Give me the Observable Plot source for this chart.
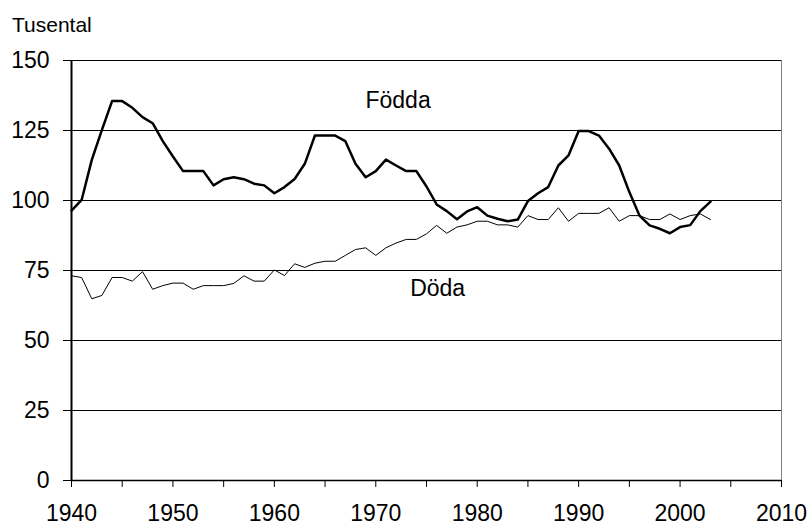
<!DOCTYPE html>
<html>
<head>
<meta charset="utf-8">
<script src="https://cdn.jsdelivr.net/npm/d3@7"></script>
<script src="https://cdn.jsdelivr.net/npm/@observablehq/plot@0.6"></script>
<style>
  html, body { margin: 0; padding: 0; background: #fff; }
  #chart { position: relative; width: 810px; height: 525px; }
  #unit { position: absolute; left: 12px; top: 14px; font: 21px/21px "Liberation Sans", Arial, sans-serif; color: #000; }
</style>
</head>
<body>
<div id="chart"><div id="unit">Tusental</div></div>
<script>
const years = d3.range(1940, 2004);
const fodda = [
  96.4, 100.2, 114.5, 125.2, 135.5, 135.5, 133.1, 129.8, 127.6, 121.2,
  115.7, 110.5, 110.5, 110.5, 105.4, 107.6, 108.3, 107.6, 106.0, 105.4,
  102.6, 104.8, 107.7, 113.1, 123.2, 123.2, 123.2, 121.2, 113.1, 108.3,
  110.5, 114.6, 112.5, 110.5, 110.5, 105.0, 98.6, 96.2, 93.3, 96.1,
  97.6, 94.6, 93.5, 92.6, 93.2, 99.8, 102.6, 104.8, 112.5, 116.1,
  124.8, 124.8, 123.2, 118.5, 112.5, 103.0, 94.6, 91.1, 89.9, 88.3,
  90.5, 91.2, 96.2, 99.6
];
const doda = [
  73.1, 72.5, 64.9, 66.1, 72.5, 72.5, 71.2, 74.6, 68.3, 69.6,
  70.5, 70.5, 68.3, 69.6, 69.6, 69.6, 70.4, 73.1, 71.2, 71.2,
  75.2, 73.2, 77.4, 76.1, 77.6, 78.3, 78.3, 80.4, 82.5, 83.1,
  80.4, 83.1, 84.8, 86.1, 86.1, 88.1, 91.1, 88.3, 90.5, 91.3,
  92.6, 92.6, 91.3, 91.3, 90.5, 94.6, 93.2, 93.2, 97.4, 92.6,
  95.4, 95.4, 95.4, 97.4, 92.6, 94.6, 94.6, 93.2, 93.2, 95.2,
  93.2, 94.6, 95.2, 93.2
];
const yTicks = [0, 25, 50, 75, 100, 125, 150];
const xTicks = d3.range(1940, 2011, 5);
const seriesLabels = [
  {name: "Födda", year: 1972.2, value: 135.5},
  {name: "Döda", year: 1976.1, value: 68.5}
];

const rowsF = years.map((y, i) => ({year: y, value: fodda[i]}));
const rowsD = years.map((y, i) => ({year: y, value: doda[i]}));

const chart = Plot.plot({
  width: 810,
  height: 525,
  marginLeft: 71,
  marginRight: 29,
  marginTop: 60,
  marginBottom: 45,
  style: {fontFamily: "'Liberation Sans', Arial, sans-serif", fontSize: "23px", background: "transparent", color: "#000"},
  x: {domain: [1940, 2010]},
  y: {domain: [0, 150]},
  marks: [
    Plot.gridY(yTicks, {stroke: "#000", strokeOpacity: 1, strokeWidth: 1}),
    Plot.ruleX([2010], {stroke: "#808080", strokeWidth: 1}),
    Plot.axisY(yTicks, {tickSize: 8, tickPadding: 14, label: null, fontSize: 23, stroke: "#000"}),
    Plot.axisX(xTicks, {tickSize: 7, tickPadding: 17, label: null, fontSize: 23, stroke: "#000",
      tickFormat: d => d % 10 === 0 ? String(d) : ""}),
    Plot.ruleX([1940], {stroke: "#000", strokeWidth: 2}),
    Plot.ruleY([0], {stroke: "#000", strokeWidth: 1.5}),
    Plot.line(rowsD, {x: "year", y: "value", stroke: "#000", strokeWidth: 1}),
    Plot.line(rowsF, {x: "year", y: "value", stroke: "#000", strokeWidth: 2.5}),
    Plot.text(seriesLabels, {x: "year", y: "value", text: "name", fontSize: 23, fill: "#000"})
  ]
});
document.getElementById("chart").appendChild(chart);
</script>
</body>
</html>
